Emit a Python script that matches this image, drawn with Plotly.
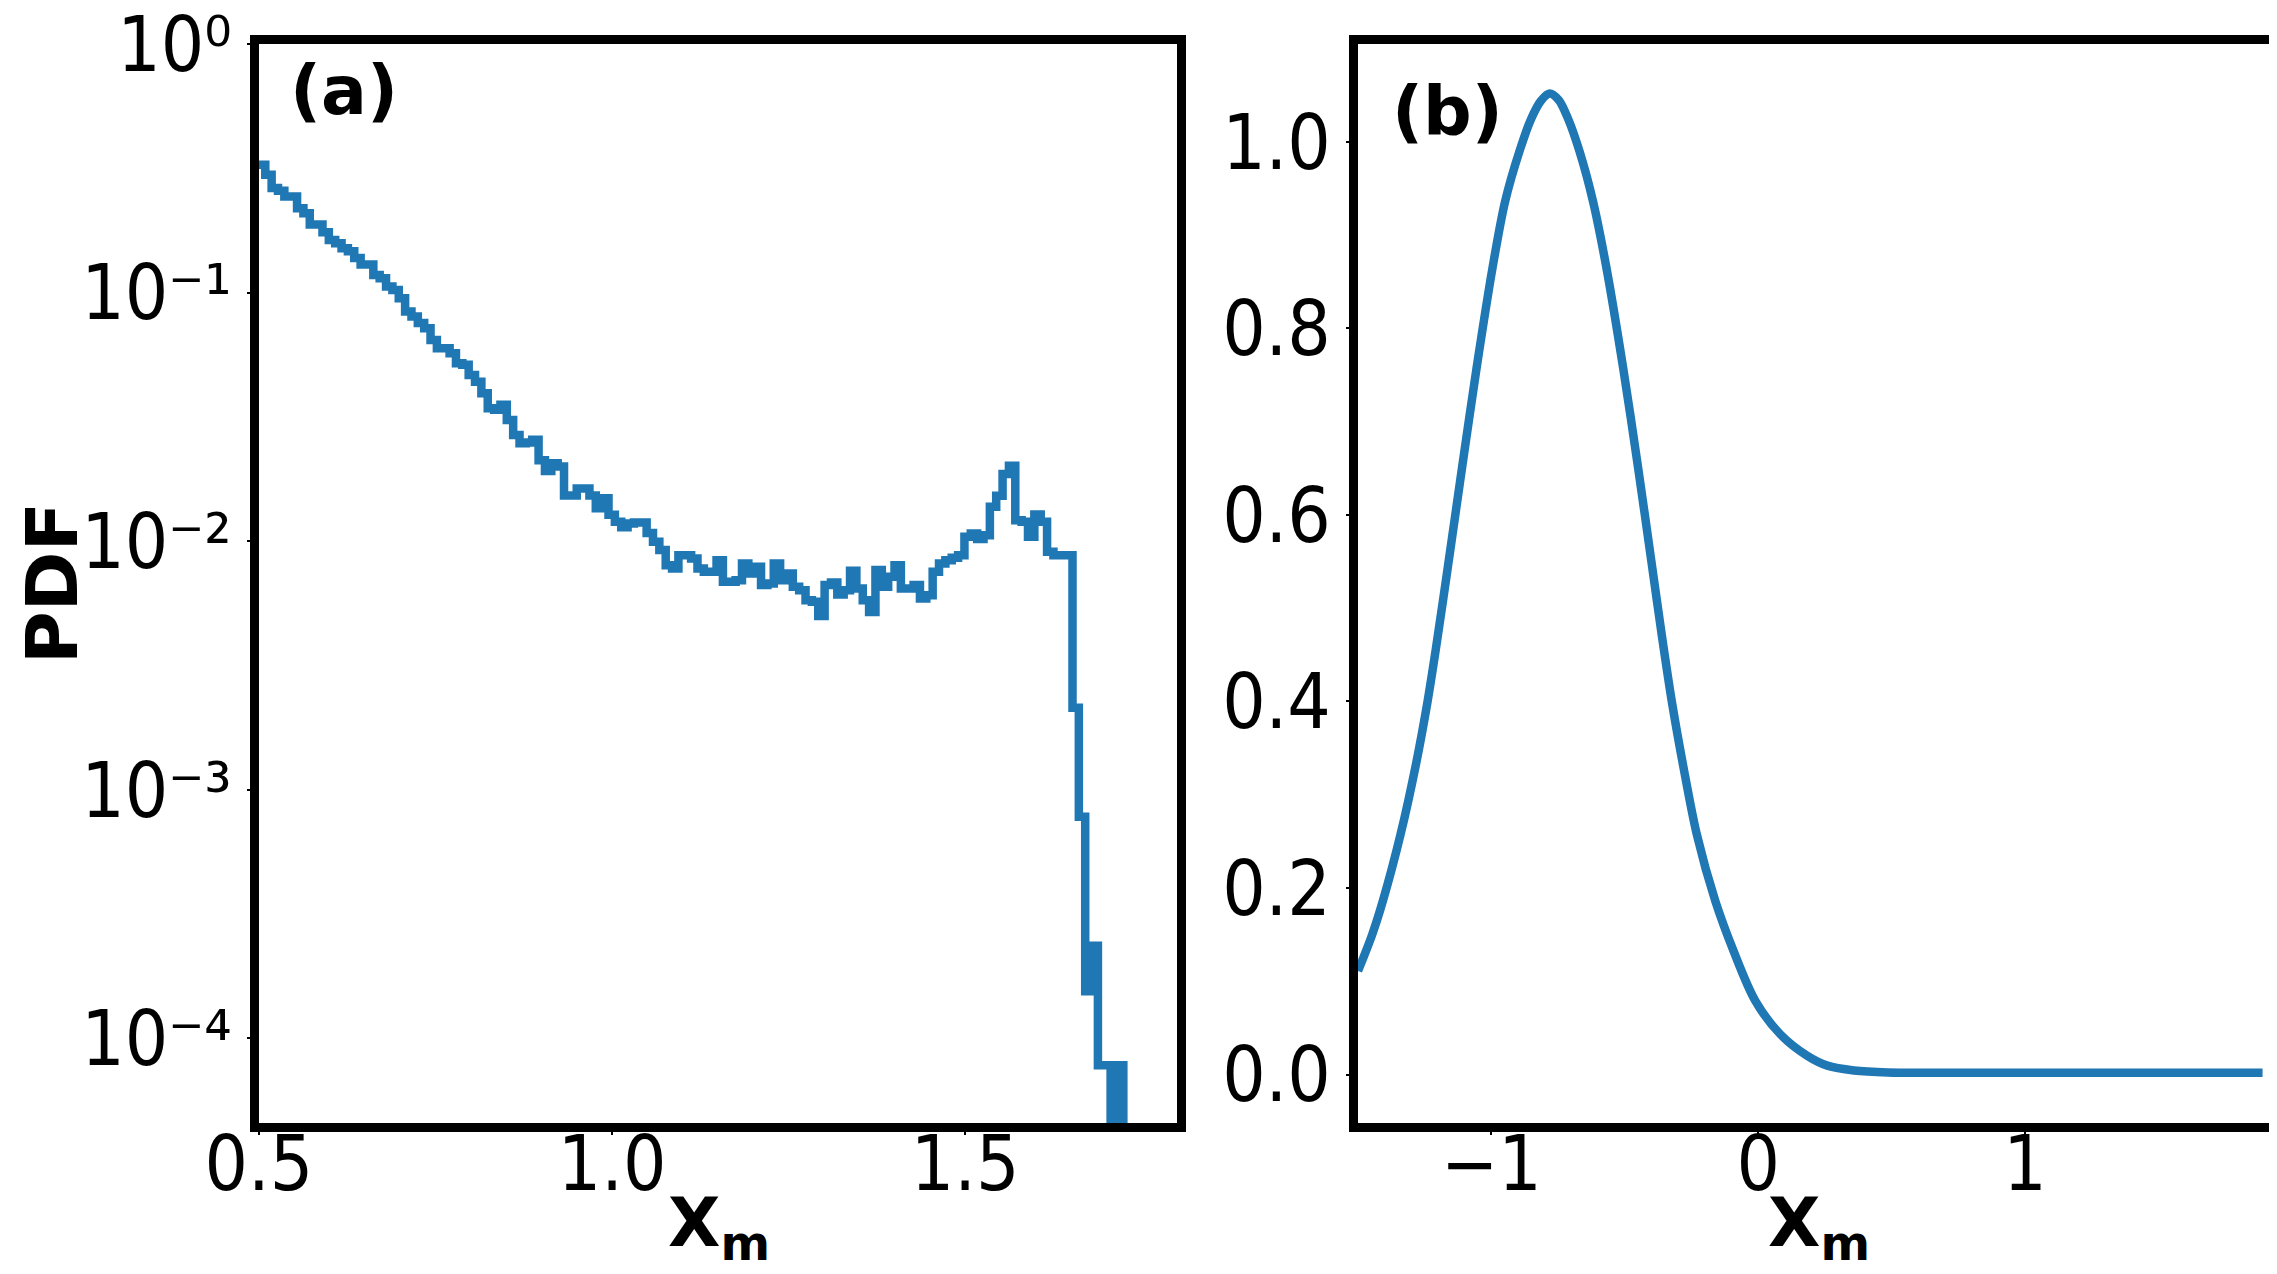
"""
plot.py

* Two panel PDF figure: (a) histogram of X_m on a log scale, (b) smooth PDF of X_m
"""

import numpy as np
import plotly.graph_objects as go


# ----------------------------- data -----------------------------
# panel (a): histogram bins, left edge and width
hist_start = 0.5
hist_width = 0.009
hist_pdf = [
    0.327, 0.298, 0.264, 0.257, 0.244, 0.244, 0.219, 0.209, 0.188, 0.188,
    0.175, 0.163, 0.158, 0.151, 0.147, 0.138, 0.130, 0.130, 0.118, 0.1145,
    0.106, 0.1027, 0.0951, 0.0841, 0.0802, 0.0755, 0.0720, 0.0646, 0.0598, 0.0598,
    0.0571, 0.0520, 0.0513, 0.0467, 0.0439, 0.0394, 0.0343, 0.0338, 0.0354, 0.0308,
    0.0268, 0.0248, 0.0250, 0.0256, 0.0212, 0.0192, 0.0206, 0.0200, 0.0153, 0.0153,
    0.0163, 0.0163, 0.0153, 0.0136, 0.0149, 0.0128, 0.0120, 0.0114, 0.0118, 0.0119,
    0.0119, 0.0108, 0.00996, 0.00922, 0.00802, 0.00778, 0.00880, 0.00880, 0.00853, 0.00778,
    0.00755, 0.00755, 0.00840, 0.00688, 0.00688, 0.00698, 0.00815, 0.00743, 0.00790, 0.00667,
    0.00677, 0.00815, 0.00698, 0.00743, 0.00656, 0.00636, 0.00580, 0.00571, 0.00501, 0.00667,
    0.00683, 0.00611, 0.00636, 0.00762, 0.00646, 0.00580, 0.00520, 0.00766, 0.00656, 0.00720,
    0.00802, 0.00646, 0.00646, 0.00667, 0.00589, 0.00607, 0.00755, 0.00815, 0.00840, 0.00859,
    0.00880, 0.01044, 0.01076, 0.01021, 0.01059, 0.01378, 0.01527, 0.01866, 0.02015, 0.01217,
    0.01199, 0.01044, 0.01283, 0.01199, 0.00908, 0.00880, 0.00880, 0.00880, 0.00214, 0.00078,
    0.000155, 0.000236, 0.000078, 0.000078, 1e-8, 0.000078, 1e-8,
]

# panel (b): smooth PDF curve
pdf_x = [
    -1.50, -1.447, -1.407, -1.341, -1.282, -1.240, -1.209, -1.169, -1.108, -1.056,
    -0.996, -0.949, -0.895, -0.851, -0.815, -0.782, -0.748, -0.713, -0.670, -0.619,
    -0.569, -0.506, -0.450, -0.398, -0.362, -0.324, -0.280, -0.230, -0.161, -0.092,
    -0.011, 0.083, 0.184, 0.259, 0.359, 0.485, 0.70, 1.0, 1.4, 1.89,
]
pdf_y = [
    0.111, 0.150, 0.186, 0.257, 0.334, 0.399, 0.455, 0.533, 0.655, 0.757,
    0.865, 0.936, 0.990, 1.025, 1.044, 1.052, 1.045, 1.025, 0.990, 0.936,
    0.865, 0.757, 0.650, 0.545, 0.472, 0.400, 0.329, 0.257, 0.186, 0.132,
    0.079, 0.043, 0.020, 0.0095, 0.0043, 0.0022, 0.0019, 0.0018, 0.0018, 0.0018,
]

# tick labels
a_xticks = [0.5, 1.0, 1.5]
a_xlabels = ["0.5", "1.0", "1.5"]
a_yticks = [1, 0.1, 0.01, 0.001, 0.0001]
a_ylabels = ["10\u2070", "10\u207b\u00b9", "10\u207b\u00b2", "10\u207b\u00b3", "10\u207b\u2074"]
b_xticks = [-1, 0, 1]
b_xlabels = ["\u22121", "0", "1"]
b_yticks = [0.0, 0.2, 0.4, 0.6, 0.8, 1.0]
b_ylabels = ["0.0", "0.2", "0.4", "0.6", "0.8", "1.0"]


# ----------------------------- figure -----------------------------
blue = "#1f77b4"
tick_family = "DejaVu Sans Condensed, DejaVu Sans"
label_family = "DejaVu Sans"

# step histogram: bin edges plus the closing edge
edges = hist_start + hist_width * np.arange(len(hist_pdf) + 1)
step_y = hist_pdf + [hist_pdf[-1]]

fig = go.Figure()

fig.add_trace(go.Scatter(
    x=edges, y=step_y, mode="lines",
    line=dict(color=blue, width=8.5, shape="hv"),
    xaxis="x", yaxis="y", showlegend=False,
))

fig.add_trace(go.Scatter(
    x=pdf_x, y=pdf_y, mode="lines",
    line=dict(color=blue, width=8.5, shape="spline", smoothing=0.9),
    xaxis="x2", yaxis="y2", showlegend=False,
))

# common axis style: thick black frame, small outside ticks
axis_style = dict(
    showline=True, mirror=True, linewidth=9, linecolor="black",
    ticks="outside", ticklen=3, tickwidth=2, tickcolor="black",
    showgrid=False, zeroline=False, automargin=False,
    ticklabeloverflow="allow",
    tickfont=dict(family=tick_family, size=76, color="black"),
)

y_dom = [0.1248, 0.9717]

fig.update_layout(
    width=2277, height=1274,
    margin=dict(l=0, r=0, t=0, b=0),
    paper_bgcolor="white", plot_bgcolor="white",
    xaxis=dict(axis_style, domain=[0.1102, 0.5134], range=[0.5, 1.8],
               tickvals=a_xticks, ticktext=a_xlabels, anchor="y",
               ticklabelstandoff=-36),
    yaxis=dict(axis_style, domain=y_dom, type="log", range=[-4.34, 0.0005],
               tickvals=a_yticks, ticktext=a_ylabels, anchor="x"),
    xaxis2=dict(axis_style, domain=[0.5929, 0.9960], range=[-1.5, 1.94],
                tickvals=b_xticks, ticktext=b_xlabels, anchor="y2",
                ticklabelstandoff=-36),
    yaxis2=dict(axis_style, domain=y_dom, range=[-0.052, 1.105],
                tickvals=b_yticks, ticktext=b_ylabels, anchor="x2"),
)

# panel letters, axis titles
label_font = dict(family=label_family, size=68, color="black")
centred = dict(xref="paper", yref="paper", showarrow=False,
               xanchor="center", yanchor="middle")
fig.add_annotation(text="<b>(a)</b>", x=0.1475, y=0.935, font=label_font, **centred)
fig.add_annotation(text="<b>(b)</b>", x=0.6320, y=0.919, font=label_font, **centred)
fig.add_annotation(text="<b>X<sub>m</sub></b>", x=0.3123, y=0.043, font=label_font, **centred)
fig.add_annotation(text="<b>X<sub>m</sub></b>", x=0.7953, y=0.043, font=label_font, **centred)
fig.add_annotation(text="<b>PDF</b>", x=0.0193, y=0.5487, textangle=-90,
                   font=dict(family=label_family, size=72, color="black"), **centred)

fig.write_html("out.html")
